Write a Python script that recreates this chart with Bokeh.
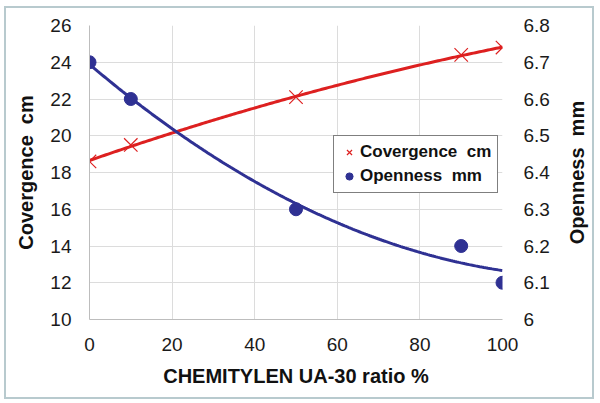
import numpy as np
from bokeh.plotting import figure
from bokeh.layouts import row
from bokeh.models import Range1d, LinearAxis, Legend, LegendItem, FixedTicker, Title
from bokeh.embed import file_html
from bokeh.resources import INLINE

# data
ratio = [0, 10, 50, 90, 100]
covergence_cm = [18.6, 19.5, 22.1, 24.4, 24.8]
openness_mm = [6.7, 6.6, 6.3, 6.2, 6.1]
left_ticks = [10, 12, 14, 16, 18, 20, 22, 24, 26]
right_ticks = [6.0, 6.1, 6.2, 6.3, 6.4, 6.5, 6.6, 6.7, 6.8]
x_ticks = [0, 20, 40, 60, 80, 100]

FONT = "Liberation Sans"
RED = "#dd2020"
BLUE = "#2f3193"
TICK_SIZE = "19px"
TITLE_SIZE = "20px"

p = figure(width=557, height=389, output_backend="svg", toolbar_location=None,
           x_range=Range1d(0, 100), y_range=Range1d(10, 26),
           min_border_left=83, min_border_right=61, min_border_top=17, min_border_bottom=78)
p.extra_y_ranges = {"open": Range1d(6.0, 6.8)}
p.outline_line_color = None
p.background_fill_color = "white"
p.border_fill_color = "white"

# trend curves (2nd order polynomial fits of the data)
xs = np.linspace(0, 100, 200)
cr = np.polyfit(ratio, covergence_cm, 2)
cb = np.polyfit(ratio, openness_mm, 2)
p.line(xs, np.polyval(cr, xs), line_color=RED, line_width=3)
p.line(xs, np.polyval(cb, xs), line_color=BLUE, line_width=3, y_range_name="open")

r1 = p.scatter(ratio, covergence_cm, marker="x", size=19, line_color=RED, line_width=1.2)
r2 = p.scatter(ratio, openness_mm, marker="circle", size=13, fill_color=BLUE,
               line_color=BLUE, y_range_name="open")

# axes
for ax in (p.xaxis[0], p.yaxis[0]):
    ax.axis_line_color = "#bdbdbd"
    ax.major_tick_line_color = None
    ax.minor_tick_line_color = None
    ax.major_label_text_font = FONT
    ax.major_label_text_font_size = TICK_SIZE
    ax.major_label_text_color = "#1a1a1a"
    ax.axis_label_text_font = FONT
    ax.axis_label_text_font_style = "bold"
    ax.axis_label_text_font_size = TITLE_SIZE
    ax.axis_label_text_color = "#111111"

p.xaxis[0].ticker = FixedTicker(ticks=x_ticks)
p.yaxis[0].ticker = FixedTicker(ticks=left_ticks)
p.xaxis[0].axis_label = "CHEMITYLEN UA-30 ratio %"
p.xaxis[0].major_label_standoff = 12
p.xaxis[0].axis_label_standoff = 11
p.yaxis[0].axis_label = "Covergence\u00a0\u00a0cm"
p.yaxis[0].major_label_standoff = 12
p.yaxis[0].axis_label_standoff = 10

ra = LinearAxis(y_range_name="open", ticker=FixedTicker(ticks=right_ticks))
ra.axis_line_color = None
ra.major_tick_line_color = None
ra.minor_tick_line_color = None
ra.major_label_text_font = FONT
ra.major_label_text_font_size = TICK_SIZE
ra.major_label_text_color = "#1a1a1a"
ra.major_label_standoff = 15
p.add_layout(ra, "right")

p.xgrid.ticker = FixedTicker(ticks=x_ticks)
p.ygrid.ticker = FixedTicker(ticks=left_ticks)
p.xgrid.grid_line_color = "#dcdcdc"
p.ygrid.grid_line_color = "#dcdcdc"

legend = Legend(items=[LegendItem(label="Covergence\u00a0\u00a0cm", renderers=[r1]),
                       LegendItem(label="Openness\u00a0\u00a0mm", renderers=[r2])],
                location=(244, 126))
legend.border_line_color = "black"
legend.border_line_width = 1
legend.background_fill_alpha = 1
legend.label_text_font = FONT
legend.label_text_font_style = "bold"
legend.label_text_font_size = "17px"
legend.label_text_color = "#111111"
legend.glyph_width = 18
legend.glyph_height = 18
legend.label_standoff = 2
legend.spacing = 4
legend.padding = 6
legend.margin = 0
p.add_layout(legend, "center")

# narrow companion figure carrying the right-hand axis title (reads upward)
p2 = figure(width=29, height=389, output_backend="svg", toolbar_location=None,
            min_border_left=0, min_border_right=0, min_border_top=17, min_border_bottom=78)
p2.axis.visible = False
p2.grid.visible = False
p2.outline_line_color = None
p2.background_fill_color = "white"
p2.border_fill_color = "white"
rt = Title(text="Openness\u00a0\u00a0mm", align="center", text_font=FONT,
           text_font_style="bold", text_font_size=TITLE_SIZE, text_color="#111111",
           standoff=0, offset=0)
p2.add_layout(rt, "left")

layout = row(p, p2, spacing=0)
layout.styles = {"border": "2px solid #b8cace", "margin-left": "4px", "margin-top": "6px",
                 "background": "white"}

open("out.html", "w").write(file_html(layout, INLINE))
